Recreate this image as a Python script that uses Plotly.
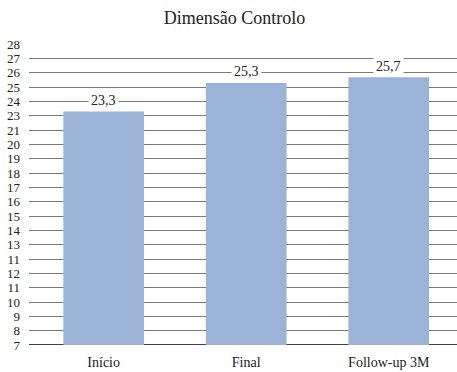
import plotly.graph_objects as go

categories = ["Início", "Final", "Follow-up 3M"]
values = [23.3, 25.3, 25.7]
value_labels = ["23,3", "25,3", "25,7"]
tick_values = list(range(7, 29))
tick_labels = ["7", "8", "9", "10", "11", "12", "11", "13", "14", "15", "16",
               "17", "18", "19", "20", "21", "23", "24", "25", "26", "27", "28"]
title_text = "Dimensão Controlo"

SERIF = "Liberation Serif"

fig = go.Figure()
fig.add_trace(go.Bar(
    x=categories, y=[v - 7 for v in values], base=7,
    marker=dict(color="#9bb3d6", line=dict(width=0)),
    width=0.566, hoverinfo="skip",
))

for c, v, t in zip(categories, values, value_labels):
    fig.add_annotation(x=c, y=v, text=t, showarrow=False, yanchor="middle",
                       yshift=11, bgcolor="white", borderpad=2,
                       font=dict(family=SERIF, size=14, color="#222"))

fig.update_layout(
    width=457, height=372,
    margin=dict(l=29, r=0, t=44, b=27),
    paper_bgcolor="white", plot_bgcolor="white",
    showlegend=False,
    title=dict(text=title_text, x=234.5 / 457, xanchor="center",
               y=1 - 18 / 372, yanchor="middle",
               font=dict(family=SERIF, size=18, color="#222")),
    xaxis=dict(range=[-0.524, 2.479], showgrid=False, showline=False,
               ticks="", tickfont=dict(family=SERIF, size=14, color="#222"),
               ticklabelstandoff=7),
    yaxis=dict(range=[7, 28.02], tickvals=tick_values, ticktext=tick_labels,
               showgrid=True, gridcolor="#7a7a7a", gridwidth=1.3,
               zeroline=False, showline=False, ticks="",
               ticklabelstandoff=8,
               tickfont=dict(family=SERIF, size=13, color="#222")),
    shapes=[dict(type="line", xref="paper", yref="y", x0=0, x1=1, y0=7, y1=7,
                 line=dict(color="black", width=1.5), layer="below")],
)

fig.write_html("out.html")
